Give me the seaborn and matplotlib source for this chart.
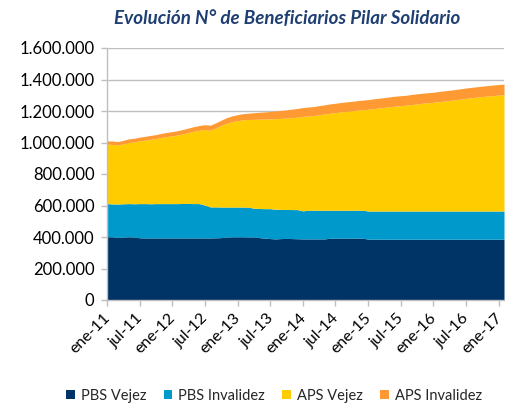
import numpy as np
import pandas as pd
import matplotlib
matplotlib.use("Agg")
import matplotlib.pyplot as plt
import matplotlib.transforms as mtransforms
from matplotlib.patches import Patch
from matplotlib.ticker import FuncFormatter, FixedLocator
import seaborn as sns

# ---- data (thousands of beneficiaries), monthly ene-11 .. feb-17 ----
pbs_vejez = [402, 401, 397, 399, 401, 400, 395, 394, 394, 394, 394, 394,
             394, 394, 394, 394, 394, 394, 394, 394, 395, 396, 399, 401,
             401, 401, 400, 400, 396, 393, 390, 388, 390, 391, 390, 389,
             388, 388, 388, 388, 388, 392, 393, 393, 393, 393, 393, 392,
             387, 386, 386, 386, 386, 386, 386, 386, 386, 386, 386, 386,
             386, 386, 386, 386, 386, 386, 386, 386, 386, 386, 386, 386,
             386, 386]
pbs_invalidez = [210, 209, 212, 212, 211, 211, 217, 218, 217, 218, 218, 218,
                 218, 218, 219, 219, 218, 218, 208, 197, 196, 194, 191, 189,
                 189, 189, 189, 183, 185, 187, 190, 188, 185, 184, 184, 185,
                 178, 182, 182, 182, 182, 178, 177, 177, 177, 177, 177, 178,
                 178, 179, 179, 179, 179, 179, 179, 179, 179, 179, 179, 179,
                 179, 179, 179, 179, 179, 179, 179, 179, 179, 179, 179, 179,
                 179, 179]
aps_vejez = [378, 378, 375, 381, 388, 393, 398, 403, 409, 413, 420, 426,
             430, 436, 442, 451, 460, 466, 480, 487, 501, 518, 532, 542,
             549, 554, 557, 564, 567, 569, 570, 575, 578, 580, 584, 587,
             600, 598, 601, 606, 611, 616, 620, 624, 628, 631, 635, 638,
             646, 650, 654, 658, 662, 666, 669, 672, 676, 680, 684, 687,
             690, 694, 698, 702, 706, 711, 715, 719, 723, 727, 730, 733,
             736, 739]
aps_invalidez = [20, 21, 22, 22, 23, 23, 24, 24, 25, 25, 26, 26,
                 27, 27, 28, 28, 29, 30, 31, 32, 33, 34, 36, 37,
                 38, 39, 40, 42, 44, 45, 47, 49, 51, 52, 54, 55,
                 56, 57, 57, 58, 58, 59, 59, 60, 60, 60, 61, 61,
                 61, 62, 62, 62, 63, 63, 63, 63, 64, 64, 64, 64,
                 64, 65, 65, 65, 65, 65, 66, 66, 66, 66, 66, 67,
                 67, 67]
series_names = ["PBS Vejez", "PBS Invalidez", "APS Vejez", "APS Invalidez"]
tick_labels = ["ene-11", "jul-11", "ene-12", "jul-12", "ene-13", "jul-13", "ene-14",
               "jul-14", "ene-15", "jul-15", "ene-16", "jul-16", "ene-17"]
y_ticks = [0, 200000, 400000, 600000, 800000, 1000000, 1200000, 1400000, 1600000]
title = "Evolución N° de Beneficiarios Pilar Solidario"

colors = ["#003366", "#0099CC", "#FFCC00", "#FF9933"]

df = pd.DataFrame({
    "mes": np.arange(len(pbs_vejez)),
    "PBS Vejez": np.array(pbs_vejez) * 1000,
    "PBS Invalidez": np.array(pbs_invalidez) * 1000,
    "APS Vejez": np.array(aps_vejez) * 1000,
    "APS Invalidez": np.array(aps_invalidez) * 1000,
})

sns.set_style("white")
plt.rcParams["font.family"] = ["Lato", "DejaVu Sans"]

fig = plt.figure(figsize=(5.06, 4.04), dpi=100)
ax = fig.add_axes([107 / 506, 1 - 300 / 404, 397 / 506, 252 / 404])

ax.stackplot(df["mes"], [df[n] for n in series_names], colors=colors,
             linewidth=0, zorder=2)

ax.set_xlim(0, len(pbs_vejez) - 1)
ax.set_ylim(0, 1600000)
ax.yaxis.set_major_locator(FixedLocator(y_ticks))
ax.yaxis.set_major_formatter(FuncFormatter(lambda v, p: f"{int(v):,}".replace(",", ".")))
ax.set_xticks(np.arange(0, 6 * len(tick_labels), 6))
ax.set_xticklabels(tick_labels, rotation=45, ha="right", rotation_mode="anchor")

ax.grid(axis="y", color="#BFBFBF", linewidth=1, zorder=0)
ax.set_axisbelow(True)
for s in ["top", "right"]:
    ax.spines[s].set_visible(False)
for s in ["left", "bottom"]:
    ax.spines[s].set_color("#BFBFBF")
    ax.spines[s].set_linewidth(1)
    ax.spines[s].set_zorder(3)
ax.tick_params(axis="both", which="major", length=4, width=1, color="#BFBFBF",
               labelcolor="#000000", direction="out", left=True, bottom=True)
ax.tick_params(axis="y", pad=5, labelsize=12)
ax.tick_params(axis="x", pad=4, labelsize=11.5)

offset = mtransforms.ScaledTranslation(-4 / 100, 0, fig.dpi_scale_trans)
for lab in ax.get_xticklabels():
    lab.set_transform(lab.get_transform() + offset)

fig.text(287 / 506, 1 - 19 / 404, title, ha="center", va="center",
         fontsize=13.5, fontweight="bold", fontstyle="italic", color="#1F3F73")

handles = [Patch(facecolor=c, edgecolor="none") for c in colors]
fig.legend(handles, series_names, loc="center", bbox_to_anchor=(274 / 506, 1 - 396 / 404),
           ncol=4, frameon=False, fontsize=10.5, handlelength=0.6, handleheight=0.6,
           handletextpad=0.4, columnspacing=1.2)

fig.savefig("out.png", dpi=100)
